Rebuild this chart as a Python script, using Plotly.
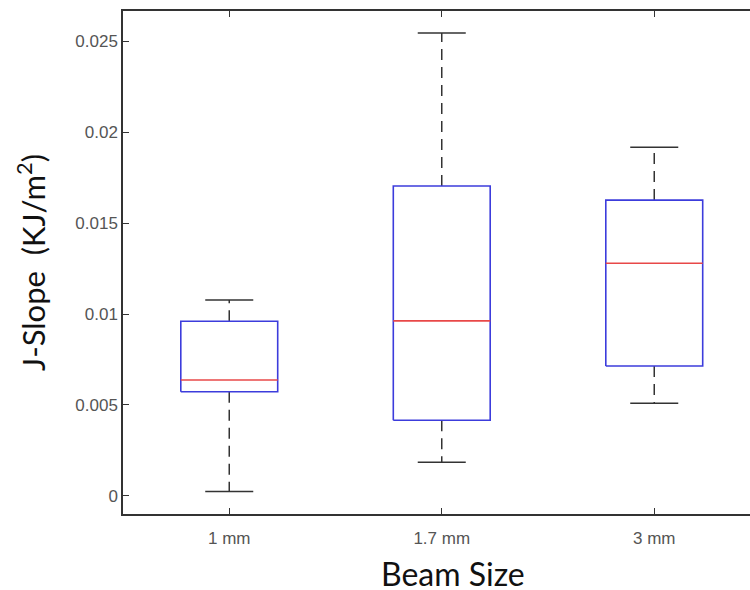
import plotly.graph_objects as go

categories = ["1 mm", "1.7 mm", "3 mm"]
lower_whisker = [0.00024, 0.00185, 0.00509]
q1 = [0.00573, 0.00416, 0.00714]
median = [0.00637, 0.00962, 0.01279]
q3 = [0.00960, 0.01703, 0.01626]
upper_whisker = [0.01077, 0.02544, 0.01916]
y_ticks = [0, 0.005, 0.01, 0.015, 0.02, 0.025]
y_tick_labels = ["0", "0.005", "0.01", "0.015", "0.02", "0.025"]

box_half = 0.228
cap_half = 0.113
box_color = "#3c3cdc"
med_color = "#e84848"
wh_color = "#333333"

fig = go.Figure()
for i, cat in enumerate(categories):
    x = i + 1
    fig.add_trace(go.Scatter(x=[x, x], y=[q3[i], upper_whisker[i]], mode="lines",
                             line=dict(color=wh_color, width=1.5, dash="11px,7px"),
                             hoverinfo="skip", showlegend=False))
    fig.add_trace(go.Scatter(x=[x, x], y=[q1[i], lower_whisker[i]], mode="lines",
                             line=dict(color=wh_color, width=1.5, dash="11px,7px"),
                             hoverinfo="skip", showlegend=False))
    for yv in (upper_whisker[i], lower_whisker[i]):
        fig.add_trace(go.Scatter(x=[x - cap_half, x + cap_half], y=[yv, yv], mode="lines",
                                 line=dict(color=wh_color, width=1.5),
                                 hoverinfo="skip", showlegend=False))
    fig.add_trace(go.Scatter(x=[x - box_half, x + box_half, x + box_half, x - box_half, x - box_half],
                             y=[q1[i], q1[i], q3[i], q3[i], q1[i]], mode="lines",
                             line=dict(color=box_color, width=1.6),
                             hoverinfo="skip", showlegend=False))
    fig.add_trace(go.Scatter(x=[x - box_half, x + box_half], y=[median[i], median[i]], mode="lines",
                             line=dict(color=med_color, width=1.6),
                             hoverinfo="skip", showlegend=False))

fig.update_layout(
    width=750, height=590,
    margin=dict(l=123, r=0, t=11, b=76),
    plot_bgcolor="white", paper_bgcolor="white",
    showlegend=False,
    annotations=[dict(text="Beam Size", xref="paper", yref="paper", x=0.5, y=0,
                      xanchor="center", yanchor="middle", xshift=16, yshift=-59,
                      showarrow=False,
                      font=dict(family="Lato, sans-serif", size=32, color="#111111"))],
)
fig.update_xaxes(
    range=[0.5, 3.4506], tickvals=[1, 2, 3], ticktext=categories,
    showline=True, linecolor="#333333", linewidth=1.5, mirror="ticks",
    ticks="inside", ticklen=6, tickcolor="#333333",
    showgrid=False, zeroline=False, ticklabelstandoff=8,
    tickfont=dict(family="Liberation Sans, Arial", size=17, color="#555555"),
)
fig.update_yaxes(
    range=[-0.00099, 0.02665], tickvals=y_ticks, ticktext=y_tick_labels,
    showline=True, linecolor="#333333", linewidth=1.5, mirror=False,
    ticks="inside", ticklen=6, tickcolor="#333333",
    showgrid=False, zeroline=False,
    tickfont=dict(family="Liberation Sans, Arial", size=17, color="#555555"),
    title=dict(text="J-Slope  (KJ/m<sup>2</sup>)", font=dict(family="Lato, sans-serif", size=31, color="#111111"),
               standoff=20),
)

fig.write_html("out.html")
